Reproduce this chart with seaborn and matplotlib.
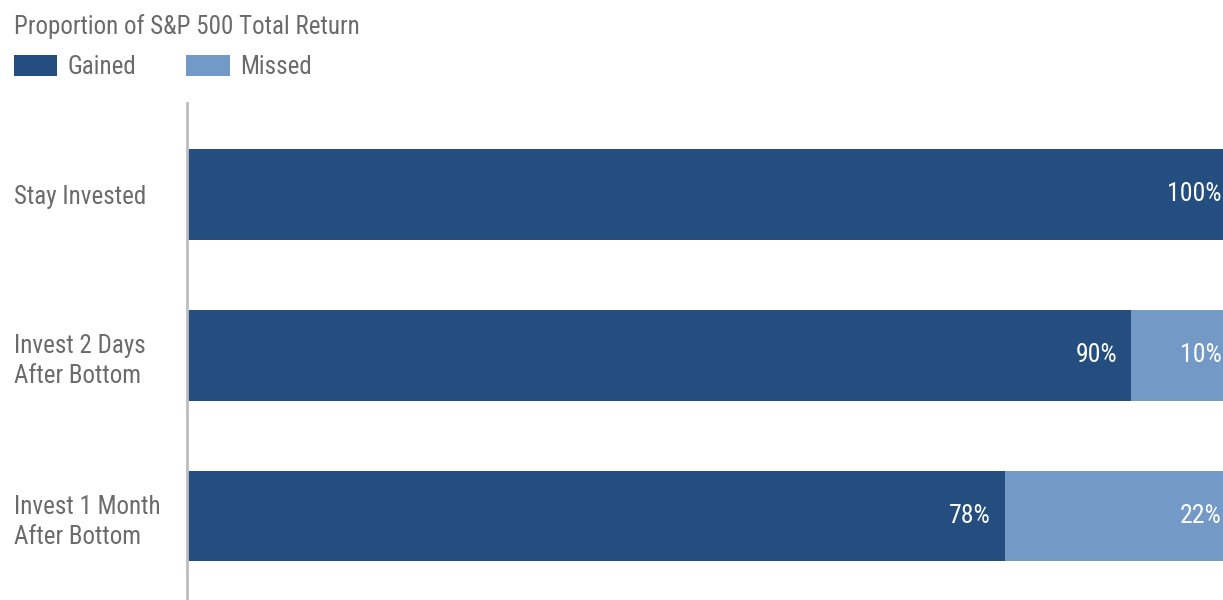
import matplotlib
matplotlib.use("Agg")
import matplotlib.pyplot as plt
import seaborn as sns
import pandas as pd
from matplotlib.patches import Patch

categories = ["Stay Invested", "Invest 2 Days\nAfter Bottom", "Invest 1 Month\nAfter Bottom"]
gained = [100, 90, 78]
missed = [0, 10, 22]
title = "Proportion of S&P 500 Total Return"
series_names = ["Gained", "Missed"]

DARK = "#234E7F"
LIGHT = "#7399C6"
GREY = "#6b6b6b"

sns.set_theme(style="white")
plt.rcParams['font.family'] = ['Roboto Condensed', 'DejaVu Sans']

df = pd.DataFrame({"cat": categories, "gained": gained, "missed": missed})
df["total"] = df["gained"] + df["missed"]

fig = plt.figure(figsize=(12.23, 6.0), dpi=100)
W, H = 1223, 600
ax = fig.add_axes([187 / W, 0, 1049 / W, (600 - 103) / H])

sns.barplot(data=df, y="cat", x="total", color=LIGHT, width=0.565, saturation=1, ax=ax,
            orient="h", linewidth=0)
sns.barplot(data=df, y="cat", x="gained", color=DARK, width=0.565, saturation=1, ax=ax,
            orient="h", linewidth=0)

ax.set_xlim(0, 100)
ax.set_ylim(2.522, -0.568)
ax.set_xlabel("")
ax.set_ylabel("")
ax.set_xticks([])
for s in ["top", "right", "bottom"]:
    ax.spines[s].set_visible(False)
ax.spines["left"].set_color("#bdbdbd")
ax.spines["left"].set_linewidth(2.0)

FS = 18
ax.set_yticks(range(len(categories)))
ax.set_yticklabels(categories, fontsize=FS, color=GREY, ha="left", linespacing=1.33)
ax.tick_params(axis="y", length=0, pad=173 * 72 / 100)

off = 1.35
for i, (g, m) in enumerate(zip(gained, missed)):
    ax.text(g - off, i, f"{g}%", ha="right", va="center", color="white", fontsize=FS + 0.5)
    if m > 0:
        ax.text(g + m - off, i, f"{m}%", ha="right", va="center", color="white", fontsize=FS + 0.5)

fig.text(14 / W, 1 - 27 / H, title, ha="left", va="center", fontsize=FS, color=GREY)

handles = [Patch(facecolor=DARK, edgecolor="none"), Patch(facecolor=LIGHT, edgecolor="none")]
leg = fig.legend(handles, series_names, loc="upper left", bbox_to_anchor=(6 / W, 1 - 47 / H),
                 ncol=2, frameon=False, fontsize=FS, handlelength=1.75, handleheight=0.95,
                 handletextpad=0.4, columnspacing=2.0, borderaxespad=0, borderpad=0.3)
for t in leg.get_texts():
    t.set_color(GREY)

fig.savefig("out.png", dpi=100)
